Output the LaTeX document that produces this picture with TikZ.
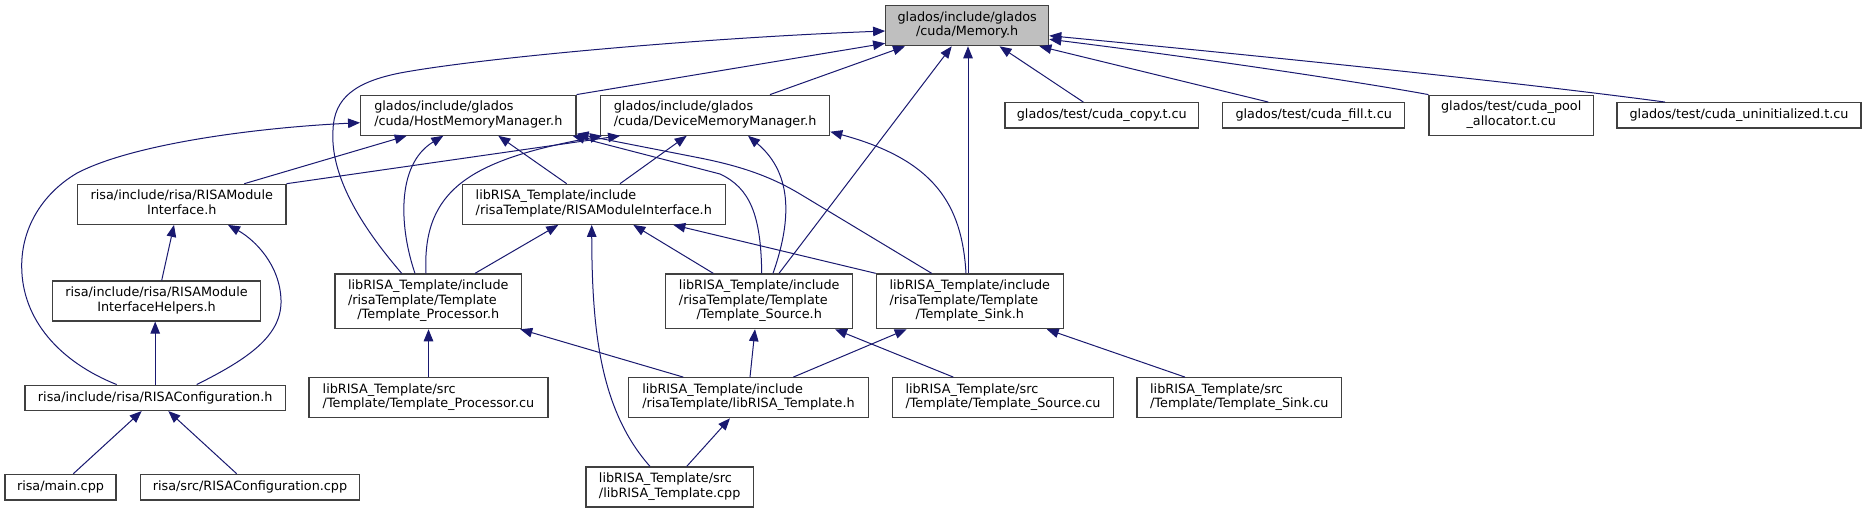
\documentclass[tikz,border=0pt]{standalone}
\usepackage{fontspec}
\setmainfont{DejaVu Sans}
\usetikzlibrary{arrows.meta}
\definecolor{edgec}{HTML}{191970}
\definecolor{boxc}{HTML}{404040}
\definecolor{rootfill}{HTML}{BFBFBF}
\newcommand{\lblfont}{\fontsize{12.8}{14.7}\selectfont}
\newcommand{\twol}[2]{\begin{tabular}{@{}c@{}}\multicolumn{1}{@{}l@{}}{#1}\\#2\end{tabular}}
\newcommand{\threel}[3]{\begin{tabular}{@{}c@{}}\multicolumn{1}{@{}l@{}}{#1}\\\multicolumn{1}{@{}l@{}}{#2}\\#3\end{tabular}}
\tikzset{
  filebox/.style={draw=boxc, fill=white, line width=1.2pt, inner sep=0pt, font=\lblfont, text=black},
  one/.style={minimum height=25.3pt},
  two/.style={minimum height=40pt},
  three/.style={minimum height=54.7pt},
  edge/.style={draw=edgec, line width=1pt, -{Triangle[length=12pt,width=9.5pt]}}
}
\begin{document}
\begin{tikzpicture}[x=1pt,y=-1pt]
\fill[white] (0,0) rectangle (1867,513);
\useasboundingbox (0,0) rectangle (1867,513);

% nodes
\node[filebox,two,fill=rootfill,minimum width=163pt] (mem) at (967.2,25.7) {\twol{glados/include/glados}{/cuda/Memory.h}};
\node[filebox,two,minimum width=215.3pt] (host) at (468.3,115.2) {\twol{glados/include/glados}{/cuda/HostMemoryManager.h}};
\node[filebox,two,minimum width=229pt] (dev) at (715.2,115.2) {\twol{glados/include/glados}{/cuda/DeviceMemoryManager.h}};
\node[filebox,one,minimum width=193.7pt] (copy) at (1101.8,115.3) {glados/test/cuda\_copy.t.cu};
\node[filebox,one,minimum width=182pt] (fill) at (1313.7,115.3) {glados/test/cuda\_fill.t.cu};
\node[filebox,two,minimum width=164.3pt] (pool) at (1511.2,115.2) {\twol{glados/test/cuda\_pool}{\_allocator.t.cu}};
\node[filebox,one,minimum width=244pt] (uninit) at (1739,115.3) {glados/test/cuda\_uninitialized.t.cu};
\node[filebox,two,minimum width=208.3pt] (rmi) at (181.8,204.3) {\twol{risa/include/risa/RISAModule}{Interface.h}};
\node[filebox,two,minimum width=263pt] (trmi) at (593.8,204.3) {\twol{libRISA\_Template/include}{/risaTemplate/RISAModuleInterface.h}};
\node[filebox,two,minimum width=208.4pt] (helpers) at (156.5,301) {\twol{risa/include/risa/RISAModule}{InterfaceHelpers.h}};
\node[filebox,three,minimum width=186.7pt] (proc) at (428.3,301.3) {\threel{libRISA\_Template/include}{/risaTemplate/Template}{/Template\_Processor.h}};
\node[filebox,three,minimum width=187pt] (src) at (759.2,301.3) {\threel{libRISA\_Template/include}{/risaTemplate/Template}{/Template\_Source.h}};
\node[filebox,three,minimum width=187pt] (sink) at (969.8,301.3) {\threel{libRISA\_Template/include}{/risaTemplate/Template}{/Template\_Sink.h}};
\node[filebox,one,minimum width=260.3pt] (conf) at (155.2,397.8) {risa/include/risa/RISAConfiguration.h};
\node[filebox,two,minimum width=239pt] (proccu) at (428.5,397.7) {\twol{libRISA\_Template/src}{/Template/Template\_Processor.cu}};
\node[filebox,two,minimum width=240.4pt] (tmplh) at (748.5,397.7) {\twol{libRISA\_Template/include}{/risaTemplate/libRISA\_Template.h}};
\node[filebox,two,minimum width=220.6pt] (srccu) at (1003,397.7) {\twol{libRISA\_Template/src}{/Template/Template\_Source.cu}};
\node[filebox,two,minimum width=204.7pt] (sinkcu) at (1239.3,397.7) {\twol{libRISA\_Template/src}{/Template/Template\_Sink.cu}};
\node[filebox,one,minimum width=111pt,minimum height=25.7pt] (main) at (60.5,487.2) {risa/main.cpp};
\node[filebox,one,minimum width=218.6pt,minimum height=25.7pt] (confcpp) at (250,487.2) {risa/src/RISAConfiguration.cpp};
\node[filebox,two,minimum width=167.3pt] (tmplcpp) at (669.7,487) {\twol{libRISA\_Template/src}{/libRISA\_Template.cpp}};

% edges to Memory.h
\draw[edge] ([xshift=-26.6pt]proc.north) .. controls (360,225) and (330,175) .. (333,130)
  .. controls (334,98) and (355,82) .. (400,73)
  .. controls (480,58) and (700,38) .. ([yshift=-5.3pt]mem.west);
\draw[edge] (host.north east) -- ([yshift=-17.6pt]mem.west);
\draw[edge] ([xshift=54.8pt]dev.north) -- ([xshift=-62.2pt]mem.south);
\draw[edge] ([xshift=19.8pt]src.north) -- ([xshift=-15.5pt]mem.south);
\draw[edge] ([xshift=-1.8pt]sink.north) -- ([xshift=0.8pt]mem.south);
\draw[edge] ([xshift=-18.5pt]copy.north) -- ([xshift=32.3pt]mem.south);
\draw[edge] ([xshift=-45.4pt]fill.north) -- ([xshift=72.2pt]mem.south);
\draw[edge] (pool.north west) .. controls (1360,82) and (1200,58) .. ([yshift=-13.6pt]mem.east);
\draw[edge] ([xshift=-74pt]uninit.north) .. controls (1500,80) and (1250,55) .. ([yshift=-10pt]mem.east);

% edges to HostMemoryManager.h
\draw[edge] ([xshift=-38.5pt]conf.north) .. controls (60,362) and (22,320) .. (21.7,266.7)
  .. controls (21.5,225) and (45,192) .. (76.7,173.3)
  .. controls (130,145) and (250,128) .. ([yshift=-7.5pt]host.west);
\draw[edge] ([xshift=62.5pt]rmi.north) -- ([xshift=-61.6pt]host.south);
\draw[edge] ([xshift=-13.3pt]proc.north) .. controls (400,230) and (395,165) .. ([xshift=-25pt]host.south);
\draw[edge] ([xshift=-27.1pt]trmi.north) -- ([xshift=30pt]host.south);
\draw[edge] ([xshift=2.5pt]src.north) .. controls (761,215) and (750,188) .. (720,174) -- ([xshift=-4pt]host.south east);
\draw[edge] ([xshift=-38.1pt]sink.north) -- (800,194) .. controls (770,176) and (740,166) .. (700,158) -- ([yshift=2pt]host.south east);

% edges to DeviceMemoryManager.h
\draw[edge] (rmi.north east) -- ([xshift=20pt]dev.south west);
\draw[edge] ([xshift=-2.3pt]proc.north) .. controls (422,190) and (470,160) .. ([xshift=2pt]dev.south west);
\draw[edge] ([xshift=26.2pt]trmi.north) -- ([xshift=-28.5pt]dev.south);
\draw[edge] ([xshift=13.8pt]src.north) .. controls (790,225) and (795,175) .. ([xshift=32.8pt]dev.south);
\draw[edge] ([xshift=-3.8pt]sink.north) .. controls (962,205) and (935,160) .. ([yshift=-16.5pt]dev.east);

% edges to libRISA RISAModuleInterface.h
\draw[edge] ([xshift=46.7pt]proc.north) -- ([xshift=-35.5pt]trmi.south);
\draw[edge] ([xshift=-19.7pt]tmplcpp.north) .. controls (600,410) and (592,330) .. ([xshift=-2.1pt]trmi.south);
\draw[edge] ([xshift=-45.9pt]src.north) -- ([xshift=39.5pt]trmi.south);
\draw[edge] (sink.north west) -- ([xshift=79.5pt]trmi.south);

% edges to risa RISAModuleInterface.h and helpers
\draw[edge] ([xshift=5.2pt]helpers.north) -- ([xshift=-7.8pt]rmi.south);
\draw[edge] ([xshift=41.5pt]conf.north) .. controls (250,358) and (282,335) .. (281,300)
  .. controls (280,265) and (255,240) .. ([xshift=46.2pt]rmi.south);
\draw[edge] (conf.north) -- ([xshift=-1.3pt]helpers.south);

% edges to RISAConfiguration.h
\draw[edge] ([xshift=12.8pt]main.north) -- ([xshift=-13.5pt]conf.south);
\draw[edge] ([xshift=-13.3pt]confcpp.north) -- ([xshift=13.1pt]conf.south);

% edges to Template headers
\draw[edge] (proccu.north) -- ([xshift=0.2pt]proc.south);
\draw[edge] ([xshift=-65.2pt]tmplh.north) -- ([xshift=-2pt]proc.south east);
\draw[edge] ([xshift=1.5pt]tmplh.north) -- ([xshift=-4.2pt]src.south);
\draw[edge] ([xshift=-49.7pt]srccu.north) -- ([xshift=75.8pt]src.south);
\draw[edge] ([xshift=44.8pt]tmplh.north) -- ([xshift=-63.1pt]sink.south);
\draw[edge] ([xshift=-54.3pt]sinkcu.north) -- ([xshift=76.9pt]sink.south);
\draw[edge] ([xshift=17pt]tmplcpp.north) -- ([xshift=-18.5pt]tmplh.south);
\end{tikzpicture}
\end{document}
